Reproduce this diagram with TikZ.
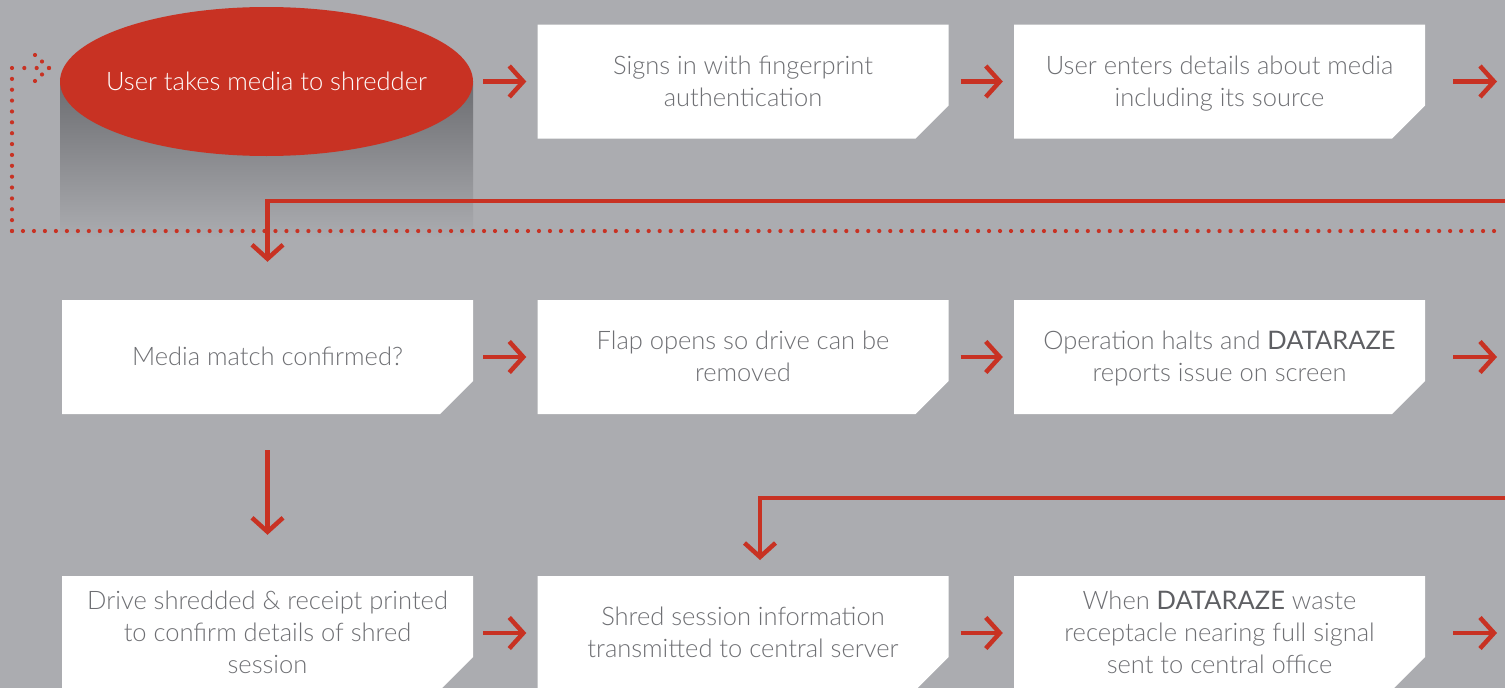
\documentclass[tikz,border=0pt]{standalone}
\usepackage{fontspec}
\IfFontExistsTF{Lato Light}{\setmainfont{Lato Light}[BoldFont={Lato}]}{\setmainfont{Lato}}
\usetikzlibrary{arrows.meta,shapes.geometric}
\definecolor{bgc}{HTML}{ABACB0}
\definecolor{redc}{HTML}{C83223}
\definecolor{txtc}{HTML}{6E6F73}
\definecolor{boldc}{HTML}{5E5F63}
\definecolor{shadc}{HTML}{6C6D71}
\newcommand{\dz}[1]{{\bfseries\color{boldc}#1}}
\newcommand{\lbl}[1]{\raisebox{-2.5pt}[\height][\depth]{\begin{tabular}{@{}c@{}}#1\end{tabular}}}
\begin{document}
\begin{tikzpicture}[x=1pt,y=-1pt,
 every node/.style={font=\fontsize{25.5}{32}\selectfont},
 stepbox/.style={minimum width=411pt, minimum height=114pt, inner sep=0pt, text=txtc, fill=bgc,
   path picture={\fill[white] (path picture bounding box.north west) -- (path picture bounding box.north east) -- ([yshift=33pt]path picture bounding box.south east) -- ([xshift=-33pt]path picture bounding box.south east) -- (path picture bounding box.south west) -- cycle;}},
 arr/.style={draw=redc, line width=4.5pt, -{Straight Barb[length=14pt,width=31pt]}},
 dots/.style={draw=redc, line width=4.2pt, line cap=round},
]
\useasboundingbox (0,0) rectangle (1505,688);
\clip (0,0) rectangle (1505,688);
\fill[bgc] (0,0) rectangle (1505,688);
% shadow below the start ellipse
\shade[top color=shadc, bottom color=bgc] (60,81) rectangle (473,238);
% dotted return path
\coordinate (dotR) at (1505,231);
\coordinate (dotC1) at (12,231);
\coordinate (dotC2) at (12,68);
\coordinate (dotT) at (49,68);
\draw[dots, dash pattern=on 0pt off 10.978pt] (dotC1) -- (dotR);
\draw[dots, dash pattern=on 0pt off 10.867pt] (dotC1) -- (dotC2);
\draw[dots, dash pattern=on 0pt off 12.333pt] (dotC2) -- (dotT);
\draw[dots, dash pattern=on 0pt off 9.55pt] (35,55) -- (dotT) -- (35,81);
% start ellipse
\node[ellipse, fill=redc, minimum width=413pt, minimum height=149pt, inner sep=0pt, text=white] (start) at (266.5,81.5) {\makebox[0pt]{\raisebox{-1.5pt}{User takes media to shredder}}};
% boxes
\node[stepbox] (b2) at (743,81.5) {\lbl{Signs in with fingerprint\\authentication}};
\node[stepbox] (b3) at (1219.5,81.5) {\lbl{User enters details about media\\including its source}};
\node[stepbox] (m1) at (267.5,357) {\lbl{Media match confirmed?}};
\node[stepbox] (m2) at (743,357) {\lbl{Flap opens so drive can be\\removed}};
\node[stepbox] (m3) at (1219.5,357) {\lbl{Operation halts and \dz{DATARAZE}\\reports issue on screen}};
\node[stepbox] (d1) at (267.5,633) {\lbl{Drive shredded \& receipt printed\\to confirm details of shred\\session}};
\node[stepbox] (d2) at (743,633) {\lbl{Shred session information\\transmitted to central server}};
\node[stepbox] (d3) at (1219.5,633) {\lbl{When \dz{DATARAZE} waste\\receptacle nearing full signal\\sent to central office}};
% free ends
\coordinate (o1) at (1497,81.5);
\coordinate (o2) at (1497,357);
\coordinate (o3) at (1497,633);
\coordinate (r1) at (1505,201);
\coordinate (r2) at (1505,498);
\coordinate (r2e) at (760,560);
% connectors
\draw[arr, shorten <=10pt, shorten >=11pt] (start.east) -- (b2.west);
\draw[arr, shorten <=12pt, shorten >=11pt] (b2.east) -- (b3.west);
\draw[arr, shorten <=28pt] (b3.east) -- (o1);
\draw[arr, shorten >=38pt] (r1) -| (m1.north);
\draw[arr, shorten <=10pt, shorten >=11pt] (m1.east) -- (m2.west);
\draw[arr, shorten <=12pt, shorten >=11pt] (m2.east) -- (m3.west);
\draw[arr, shorten <=28pt] (m3.east) -- (o2);
\draw[arr, shorten <=36pt, shorten >=41pt] (m1.south) -- (d1.north);
\draw[arr] (r2) -| (r2e);
\draw[arr, shorten <=10pt, shorten >=11pt] (d1.east) -- (d2.west);
\draw[arr, shorten <=12pt, shorten >=11pt] (d2.east) -- (d3.west);
\draw[arr, shorten <=28pt] (d3.east) -- (o3);
\end{tikzpicture}
\end{document}
